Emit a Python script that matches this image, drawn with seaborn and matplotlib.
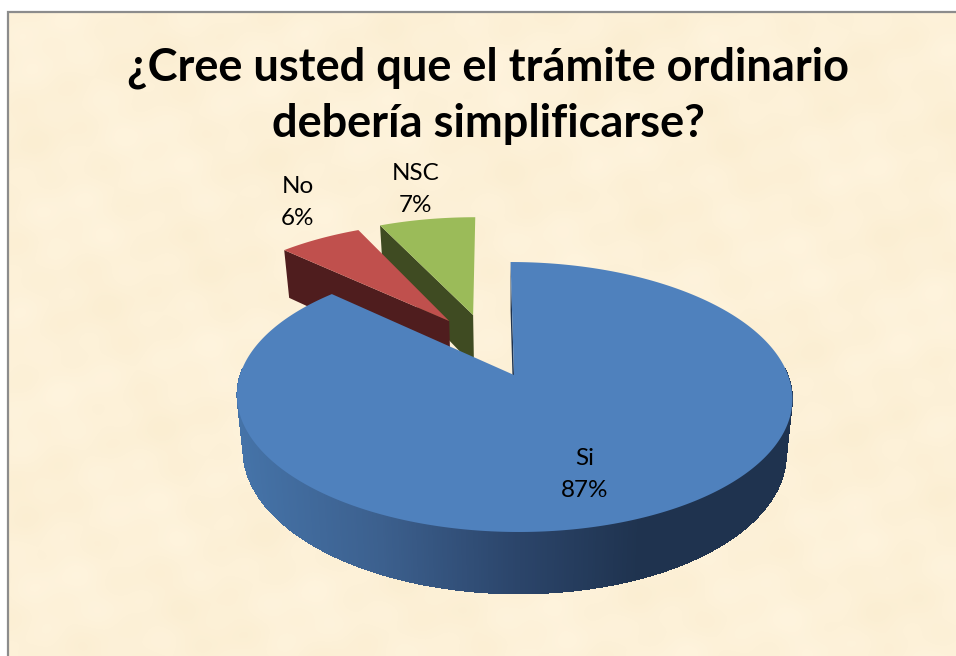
import numpy as np
import matplotlib
matplotlib.use("Agg")
import matplotlib.pyplot as plt
from matplotlib.collections import PolyCollection
from matplotlib.path import Path
import seaborn as sns

categories = ["Si", "No", "NSC"]
shares = [87, 6, 7]
title = "¿Cree usted que el trámite ordinario\ndebería simplificarse?"

top_colors = sns.color_palette(["#4f81bd", "#c0504d", "#9bbb59"])
wall_colors = ["#1f334f", "#4f1d1e", "#3f4b22"]

W, H = 956, 656
sns.set_theme(style="white")
plt.rcParams["font.family"] = ["Lato", "DejaVu Sans"]

fig = plt.figure(figsize=(W / 100, H / 100), dpi=100, facecolor="white")
ax = fig.add_axes([0, 0, 1, 1])

wedges, _ = ax.pie(shares, colors=top_colors, startangle=90, counterclock=False,
                   radius=1, wedgeprops={"linewidth": 0})

# perspective of the top and bottom faces of the disc
K = 0.163
TOP = dict(x0=514.0, y0=375.0, a=274.0, b=131.4, s=4.0)
BOTTOM = dict(x0=514.0, y0=429.0, a=268.0, b=138.0, s=4.0)
shifts = [(0.0, 0.0), (-0.247, 0.44), (-0.154, 0.493)]


def project(x, y, face):
    w = 1 + K * y
    return face["x0"] + (face["a"] * x - face["s"] * y) / w, face["y0"] - face["b"] * y / w


def side_shade(x):
    """Horizontal shading of the blue outer wall."""
    stops_x = [240, 380, 510, 640, 800]
    stops_rgb = np.array([[0x45, 0x73, 0xa8], [0x3c, 0x60, 0x8e], [0x2c, 0x46, 0x6c],
                          [0x1f, 0x33, 0x4f], [0x1f, 0x33, 0x4f]]) / 255
    return [np.interp(x, stops_x, stops_rgb[:, i]) for i in range(3)]


draw_order = {2: (2, 3), 1: (4, 5), 0: (6, 7)}
for i, wedge in enumerate(wedges):
    t = np.radians(np.linspace(wedge.theta1, wedge.theta2, 721))
    ox, oy = shifts[i]
    px, py = np.cos(t) + ox, np.sin(t) + oy
    tx, ty = project(px, py, TOP)
    bx, by = project(px, py, BOTTOM)
    ax0, ay0 = project(ox, oy, TOP)
    bx0, by0 = project(ox, oy, BOTTOM)
    wall_z, top_z = draw_order[i]

    # the radial wall that faces the viewer
    ax.fill([ax0, tx[-1], bx[-1], bx0], [ay0, ty[-1], by[-1], by0],
            color=wall_colors[i], lw=0, zorder=wall_z)
    # outer wall: only its front part can be seen
    front = [j for j in range(len(t) - 1) if np.sin(t[j]) < 0.05]
    if front:
        quads = [[(tx[j], ty[j]), (tx[j + 1], ty[j + 1]), (bx[j + 1], by[j + 1]), (bx[j], by[j])]
                 for j in front]
        cols = [side_shade((tx[j] + tx[j + 1]) / 2) for j in front]
        ax.add_collection(PolyCollection(quads, facecolors=cols, edgecolors="none",
                                         antialiaseds=False, zorder=wall_z))
    # top face: the pie wedge itself, reprojected
    wedge._path = Path(np.vstack([[ax0, ay0], np.column_stack([tx, ty]), [ax0, ay0]]), closed=True)
    wedge.set_zorder(top_z)
    wedge.set_clip_on(False)

# parchment background (smooth deterministic mottling)
yy, xx = np.mgrid[0:H - 12, 0:W - 8]
m = (np.sin(xx / 37.0 + 1.1 * np.sin(yy / 61.0)) * np.sin(yy / 29.0 + 0.9 * np.sin(xx / 47.0))
     + 0.6 * np.sin(xx / 13.0 + yy / 23.0) * np.sin(yy / 11.0 - xx / 31.0))
base = np.array([0xfd, 0xf1, 0xd8]) / 255
amp = np.array([0.004, 0.007, 0.014])
img = np.clip(base[None, None, :] + m[:, :, None] * amp[None, None, :], 0, 1)
ax.imshow(img, extent=(8, W, H, 12), aspect="auto", zorder=0, interpolation="bilinear")
ax.plot([8, 8, W], [H, 12, 12], color="#8c8c8c", lw=1.6, zorder=1, solid_joinstyle="miter")

ax.set_xlim(0, W)
ax.set_ylim(H, 0)
ax.set_aspect("auto")
ax.axis("off")

ax.text(488, 96, title, ha="center", va="center", fontsize=32.5, fontweight="bold",
        color="black", linespacing=1.4, zorder=10)

label_pos = [(585, 474.5), (298, 202.5), (416, 189.5)]
for name, share, (lx, ly) in zip(categories, shares, label_pos):
    ax.text(lx, ly, f"{name}\n{share}%", ha="center", va="center", fontsize=17.5,
            color="black", linespacing=1.6, zorder=10)

fig.savefig("out.png", dpi=100)
